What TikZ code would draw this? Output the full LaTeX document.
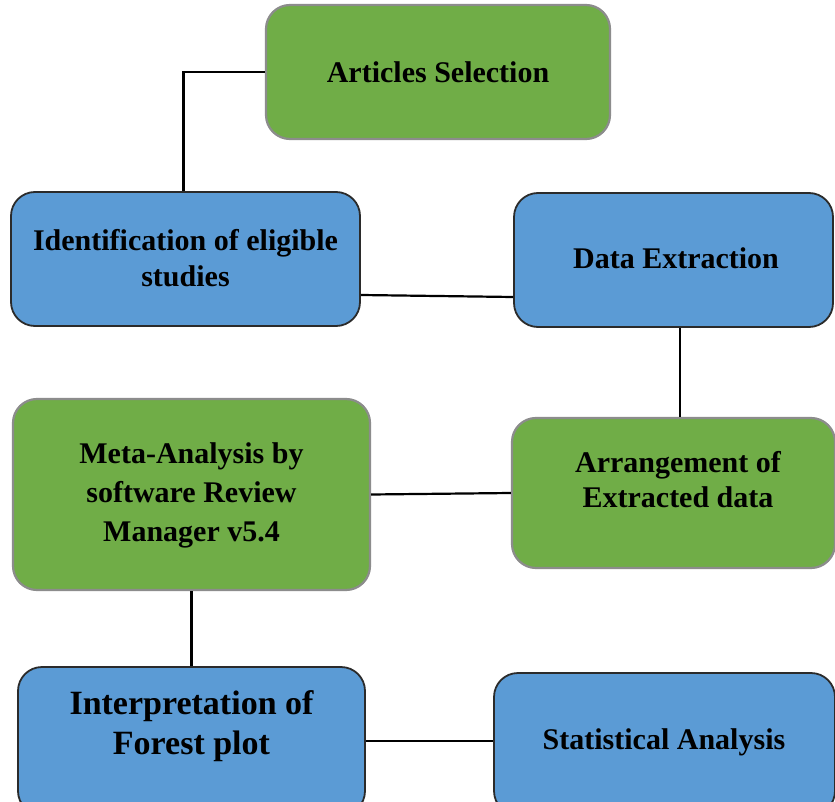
\documentclass[tikz,border=0pt]{standalone}
\usepackage{fontspec}
\setmainfont{Liberation Serif}
\usetikzlibrary{calc}
\definecolor{boxgreen}{HTML}{70AD47}
\definecolor{boxblue}{HTML}{5B9BD5}
\definecolor{greenedge}{HTML}{8C8C8C}
\definecolor{blueedge}{HTML}{2B2B2B}
\begin{document}
\begin{tikzpicture}[x=0.5pt,y=-0.5pt,
  gbox/.style={rectangle, rounded corners=12pt, fill=boxgreen, draw=greenedge, line width=1.1pt, inner sep=0pt},
  bbox/.style={rectangle, rounded corners=12pt, fill=boxblue, draw=blueedge, line width=0.9pt, inner sep=0pt},
  txt/.style={font=\bfseries\fontsize{15}{18}\selectfont, align=center, inner sep=0pt},
  bigtxt/.style={font=\bfseries\fontsize{17}{20}\selectfont, align=center, inner sep=0pt},
  link/.style={draw=black, line width=1.1pt}]
\fill[white] (0,0) rectangle (835,802);
\useasboundingbox (0,0) rectangle (835,802);

\node[gbox, minimum width=172pt, minimum height=67pt] (art) at (438,72) {};
\node[txt] (artt) at (438,72) {Articles Selection};

\node[bbox, minimum width=174.5pt, minimum height=67pt] (ide) at (185.5,259) {};
\node[txt] (idet) at (185.5,258) {Identification of eligible\\studies};

\node[bbox, minimum width=159.5pt, minimum height=67pt] (dex) at (673.5,260) {};
\node[txt] (dext) at (676,258) {Data Extraction};

\node[gbox, minimum width=178.5pt, minimum height=95.5pt] (meta) at (191.5,494.5) {};
\node[font=\bfseries\fontsize{15}{19.5}\selectfont, align=center, inner sep=0pt] (metat) at (191.5,495) {Meta-Analysis by\\software Review\\Manager v5.4};

\node[gbox, minimum width=161.5pt, minimum height=75pt] (arr) at (673.5,493) {};
\node[font=\bfseries\fontsize{15}{17.5}\selectfont, align=center, inner sep=0pt] (arrt) at (678,480) {Arrangement of\\Extracted data};

\node[bbox, minimum width=173.5pt, minimum height=74pt] (int) at (191.5,741) {};
\node[bigtxt] (intt) at (191.5,726) {Interpretation of\\Forest plot};

\node[bbox, minimum width=170.5pt, minimum height=71pt] (stat) at (664.5,744) {};
\node[txt] (statt) at (664,742) {Statistical Analysis};

\draw[link] (art.west) -| ($(ide.north)+(-2,0)$);
\draw[link] ($(ide.east)+(0,36)$) -- ($(dex.west)+(0,37)$);
\draw[link] ($(dex.south)+(6.5,0)$) -- ($(arr.north)+(6.5,0)$);
\draw[link] (meta.east) -- (arr.west);
\draw[link] (meta.south) -- (int.north);
\draw[link] (int.east) -- (int.east -| stat.west);
\end{tikzpicture}
\end{document}
